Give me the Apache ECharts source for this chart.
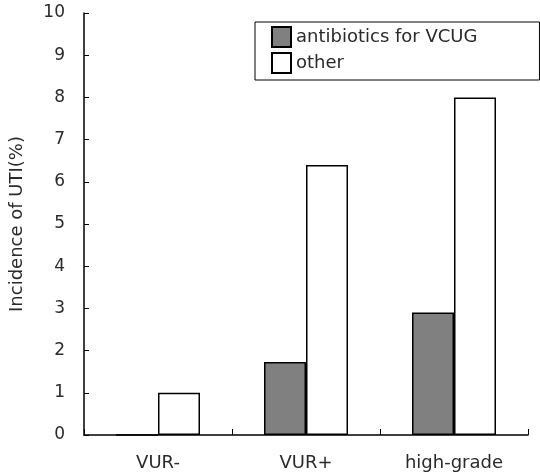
<!DOCTYPE html>
<html>
<head>
<meta charset="utf-8">
<script src="https://cdn.jsdelivr.net/npm/echarts@6/dist/echarts.min.js"></script>
<style>
html,body{margin:0;padding:0;background:#fff;}
#main{width:540px;height:474px;}
</style>
</head>
<body>
<div id="main"></div>
<script>
var categories = ['VUR-', 'VUR+', 'high-grade'];
var antibioticsData = [0, 1.73, 2.9];
var otherData = [1, 6.4, 8];
var yTicks = [0, 1, 2, 3, 4, 5, 6, 7, 8, 9, 10];

var fontFam = '"DejaVu Sans", sans-serif';
var txtColor = '#2a2a2a';

function initChart(){
	let myChart = echarts.init(document.getElementById('main'));
	let option = {
		animation: false,
		backgroundColor: '#fff',
		textStyle: { fontFamily: fontFam },
		grid: {
			left: 82,
			right: 12,
			top: 13,
			bottom: 39
		},
		legend: {
			left: 255,
			top: 22,
			width: 263,
			orient: 'vertical',
			backgroundColor: '#fff',
			borderColor: '#000',
			borderWidth: 1,
			padding: [4, 4, 6, 16],
			itemGap: 4,
			itemWidth: 19,
			itemHeight: 20,
			icon: 'rect',
			textStyle: {
				fontSize: 18,
				color: txtColor,
				fontFamily: fontFam,
				padding: [0, 58, 0, 0],
				backgroundColor: 'rgba(255,255,255,0)'
			},
			data: ['antibiotics for VCUG', 'other']
		},
		xAxis: {
			type: 'category',
			data: categories,
			axisLine: { lineStyle: { color: '#000', width: 1.5 } },
			axisTick: { show: true, inside: true, length: 6, lineStyle: { color: '#000' } },
			axisLabel: { fontSize: 18, color: txtColor, margin: 19, fontFamily: fontFam },
			splitLine: { show: false }
		},
		yAxis: {
			type: 'value',
			min: yTicks[0],
			max: yTicks[yTicks.length - 1],
			interval: 1,
			name: 'Incidence of UTI(%)',
			nameLocation: 'middle',
			nameGap: 58,
			nameTextStyle: { fontSize: 18, color: txtColor, fontFamily: fontFam },
			axisLine: { show: true, lineStyle: { color: '#000', width: 1.5 } },
			axisTick: { show: true, inside: true, length: 5, lineStyle: { color: '#000' } },
			axisLabel: { fontSize: 17, color: txtColor, margin: 19, fontFamily: fontFam },
			splitLine: { show: false }
		},
		series: [
			{
				name: 'antibiotics for VCUG',
				type: 'bar',
				data: antibioticsData,
				barWidth: 42,
				barGap: '0%',
				itemStyle: { color: '#808080', borderColor: '#000', borderWidth: 1.5 }
			},
			{
				name: 'other',
				type: 'bar',
				data: otherData,
				barWidth: 42,
				barGap: '0%',
				itemStyle: { color: '#fff', borderColor: '#000', borderWidth: 1.5 }
			}
		]
	};
	myChart.setOption(option);
	return myChart;
}
initChart();
</script>
</body>
</html>
